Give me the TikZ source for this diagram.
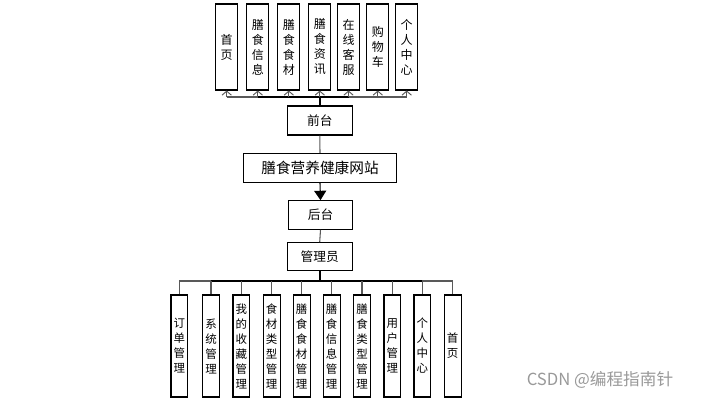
\documentclass[tikz,border=0pt]{standalone}
\usepackage{fontspec}
\setmainfont{Noto Sans CJK SC}
\usetikzlibrary{arrows.meta}
\begin{document}
\begin{tikzpicture}[x=0.75pt,y=-0.75pt,
  vtop/.style={draw,line width=0.8pt,inner sep=0pt,minimum width=16.5pt,minimum height=64.5pt,align=center,font=\fontsize{9}{11.25}\selectfont},
  vbot/.style={draw,line width=0.8pt,inner sep=0pt,minimum width=12.5pt,minimum height=76.5pt,align=center,font=\fontsize{8.6}{11.25}\selectfont},
  hbox/.style={draw,line width=0.8pt,inner sep=0pt,minimum width=48.5pt,minimum height=21.5pt,font=\fontsize{9.5}{11}\selectfont},
  conn/.style={line width=0.8pt,draw=black!65},
  thk/.style={line width=1.3pt,draw=black},
  upar/.style={conn,-{Straight Barb[length=3pt,width=7pt,line width=0.7pt]}}
]
\useasboundingbox (0,0) rectangle (702,403);
% top row
\node[vtop] (t1) at (226.7,47) {首\\页};
\node[vtop] (t2) at (257.8,47) {膳\\食\\信\\息};
\node[vtop] (t3) at (288.8,47) {膳\\食\\食\\材};
\node[vtop] (t4) at (319.8,47) {膳\\食\\资\\讯};
\node[vtop] (t5) at (348.5,47) {在\\线\\客\\服};
\node[vtop] (t6) at (377.8,47) {购\\物\\车};
\node[vtop] (t7) at (406.7,47) {个\\人\\中\\心};
% middle
\node[hbox,minimum width=48.75pt,minimum height=21.75pt] (qt) at (319.8,120.5) {前台};
\node[hbox,minimum width=115pt,minimum height=22pt,font=\fontsize{11}{13}\selectfont] (site) at (320,168) {膳食营养健康网站};
\node[hbox] (ht) at (320.5,215) {后台};
\node[hbox,minimum height=21.2pt] (gly) at (319.7,256.8) {管理员};
% bottom row
\node[vbot] (b1) at (179.3,346) {订\\单\\管\\理};
\node[vbot] (b2) at (211,346) {系\\统\\管\\理};
\node[vbot] (b3) at (241.3,346) {我\\的\\收\\藏\\管\\理};
\node[vbot] (b4) at (271.7,346) {食\\材\\类\\型\\管\\理};
\node[vbot] (b5) at (301.7,346) {膳\\食\\食\\材\\管\\理};
\node[vbot] (b6) at (331.7,346) {膳\\食\\信\\息\\管\\理};
\node[vbot] (b7) at (362,346) {膳\\食\\类\\型\\管\\理};
\node[vbot] (b8) at (392.3,346) {用\\户\\管\\理};
\node[vbot] (b9) at (422.3,346) {个\\人\\中\\心};
\node[vbot] (b10) at (452.7,346) {首\\页};
% top connectors
\coordinate (tb) at (320,97);
\draw[conn] (t1.south |- tb) -- (t7.south |- tb);
\draw[thk] (t2.south |- tb) -- (t5.south |- tb);
\foreach \i in {1,...,7}{\draw[upar] (t\i.south |- tb) -- (t\i.south);}
\draw[thk] (qt.north) -- (qt.north |- tb);
% middle connectors
\draw[conn] (qt.south) -- (site.north);
\draw[conn,-{Triangle[length=7pt,width=9pt]},draw=black] (site.south) -- (ht.north);
\draw[conn] (ht.south) -- (gly.north);
% bottom connectors
\coordinate (bb) at (320,281);
\draw[thk] (gly.south) -- (gly.south |- bb);
\draw[conn] (b1.north |- bb) -- (b10.north |- bb);
\draw[thk] (b2.north |- bb) -- (b9.north |- bb);
\foreach \i in {1,...,10}{\draw[conn] (b\i.north |- bb) -- (b\i.north);}
% watermark
\node[text=black!40,font=\fontsize{12.5}{14}\selectfont,anchor=center] (wm) at (600,380) {CSDN @编程指南针};
\end{tikzpicture}
\end{document}
